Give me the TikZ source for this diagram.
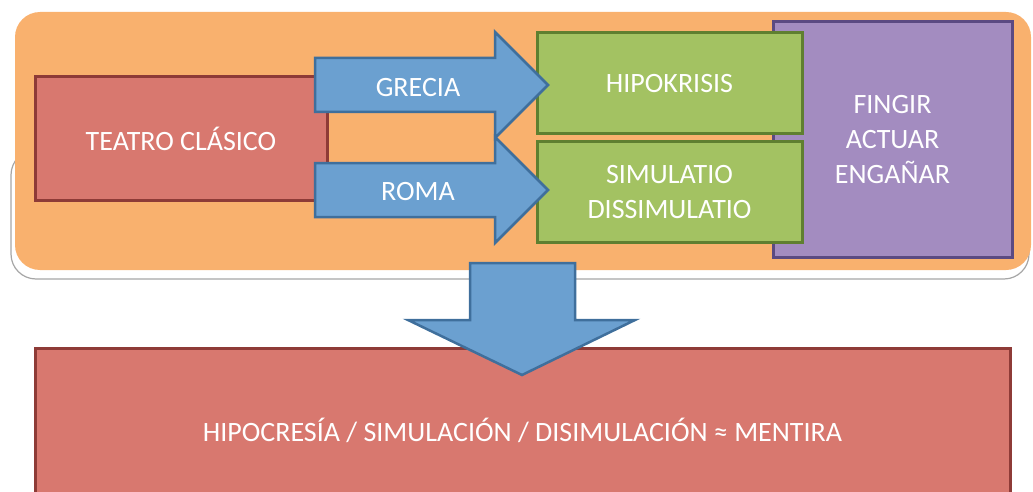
\documentclass[tikz,border=0pt]{standalone}
\usepackage{fontspec}
\setmainfont{Carlito}
\usetikzlibrary{positioning}

\begin{document}
\begin{tikzpicture}[x=1pt,y=-1pt,
  box/.style={draw,line width=3pt,inner sep=0pt,text=white,align=center,
    font=\fontsize{28}{35}\selectfont},
  blockarrow/.style={fill=arrowfill,draw=arrowline,line width=2.5pt,line join=miter},
  arrowlabel/.style={text=white,font=\fontsize{28}{35}\selectfont}]
\definecolor{panel}{HTML}{F9B16E}
\definecolor{redfill}{HTML}{D8786F}
\definecolor{redline}{HTML}{8E3B37}
\definecolor{arrowfill}{HTML}{6BA0D0}
\definecolor{arrowline}{HTML}{3F6F9C}
\definecolor{greenfill}{HTML}{A3C262}
\definecolor{greenline}{HTML}{5F7F30}
\definecolor{purplefill}{HTML}{A38CC0}
\definecolor{purpleline}{HTML}{5B4A82}

\useasboundingbox (0,0) rectangle (1033,492);
\clip (0,0) rectangle (1033,492);

% panel and its shadow
\draw[gray!70,fill=white,line width=1.2pt,rounded corners=25] (11,150) rectangle (1029,279);
\fill[panel,rounded corners=25] (15,12) rectangle (1031,270);

\node[box,fill=redfill,draw=redline,minimum width=292,minimum height=123] (teatro) at (181,138.5) {TEATRO CLÁSICO};
\node[box,fill=purplefill,draw=purpleline,minimum width=239,minimum height=235] (fingir) at (892.5,139.5) {FINGIR\\ACTUAR\\ENGAÑAR};
\node[box,fill=greenfill,draw=greenline,minimum width=265,minimum height=101] (hipokrisis) at (669.5,83.5) {HIPOKRISIS};
\node[box,fill=greenfill,draw=greenline,minimum width=265,minimum height=100] (simulatio) at (669.5,192) {SIMULATIO\\DISSIMULATIO};

\node[box,fill=redfill,draw=redline,minimum width=975,minimum height=163,anchor=north] (mentira) at (522.5,347) {HIPOCRESÍA / SIMULACIÓN / DISIMULACIÓN ≈ MENTIRA};

% block arrows
\draw[blockarrow] (315,58) -- (495,58) -- (495,32) -- (548,85) -- (495,138) -- (495,112) -- (315,112) -- cycle;
\draw[blockarrow] (315,163) -- (495,163) -- (495,137) -- (548,190) -- (495,243) -- (495,217) -- (315,217) -- cycle;
\draw[blockarrow] (470,263) -- (575,263) -- (575,320) -- (635,320) -- (522,375) -- (408,320) -- (470,320) -- cycle;

\node[arrowlabel] (grecia) at (418,88) {GRECIA};
\node[arrowlabel] (roma) at (418,192) {ROMA};
\end{tikzpicture}
\end{document}
